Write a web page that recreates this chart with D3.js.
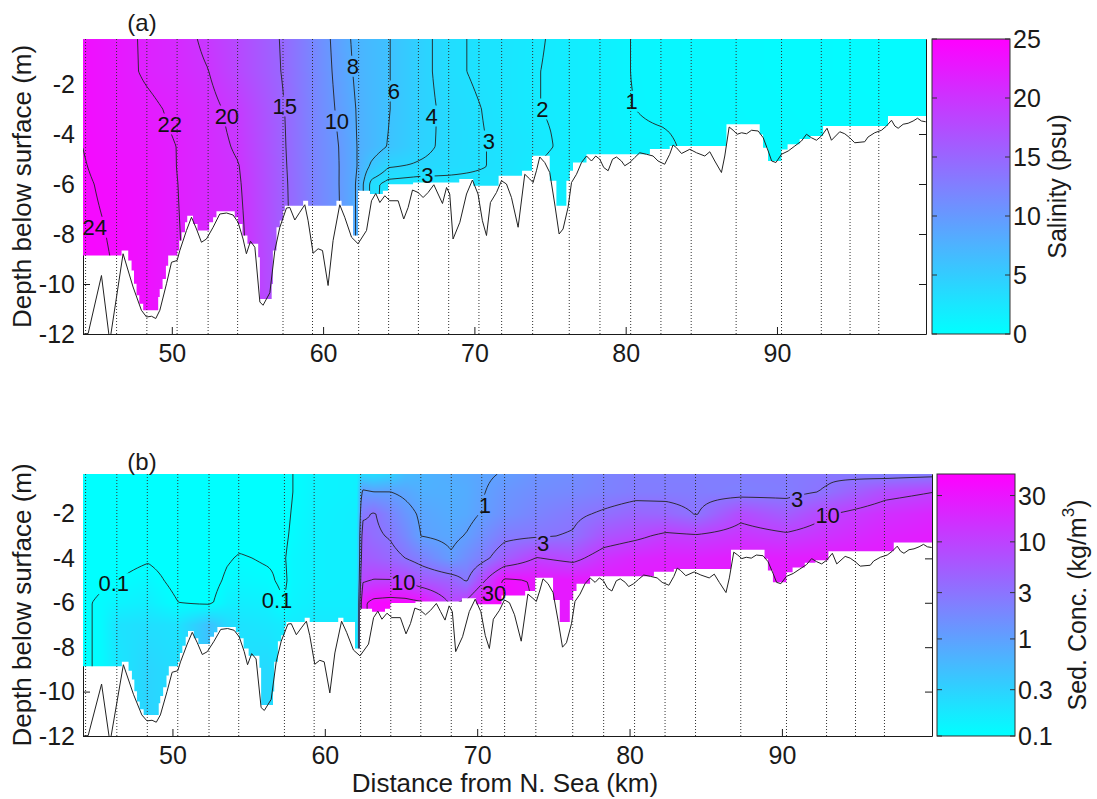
<!DOCTYPE html>
<html lang="en">
<head>
<meta charset="UTF-8">
<title>Salinity and sediment along the estuary</title>
<script src="https://d3js.org/d3.v7.min.js"></script>
<style>
  body { margin: 0; background: #fff; }
  svg { font-family: "Liberation Sans", Arial, Helvetica, sans-serif; }
</style>
</head>
<body>
<svg></svg>
<script>
const width = 1097, height = 799;

// ---- shared data ----
const kmDomain = [44.13, 99.85];
const depthDomain = [-12, -0.2];
const xTicks = [50, 60, 70, 80, 90];
const yTicks = [-2, -4, -6, -8, -10, -12];

// survey stations (dotted verticals), km
const stations = [44.3, 46.35, 48.35, 50.35, 52.4, 54.35, 57.35, 59.3, 62.35, 64.33, 66.3, 68.3,
  70.3, 71.8, 73.85, 76.27, 78.3, 80.33, 82.33, 84.33, 87.3, 90.3, 92.93, 94.83, 96.73];

// echo-sounded bed (km, depth)
const bed = [[44.15,-12.0],[44.47,-11.98],[45.35,-9.66],[45.9,-12.3],[46.78,-8.79],[47.44,-10.12],
  [47.99,-11.05],[48.33,-11.32],[48.66,-11.29],[48.94,-11.38],[49.21,-11.05],[49.65,-9.99],[49.98,-9.13],
  [50.35,-9.06],[50.53,-8.66],[50.97,-7.86],[51.3,-7.33],[51.63,-7.8],[51.96,-8.33],[52.29,-8.2],
  [52.73,-7.73],[53.17,-7.2],[53.62,-7.16],[54.05,-7.24],[54.38,-7.53],[54.71,-8.2],[54.93,-8.79],
  [55.2,-8.29],[55.49,-8.53],[55.82,-10.72],[56.03,-10.85],[56.48,-10.35],[56.81,-8.66],[57.14,-7.73],
  [57.58,-6.96],[57.8,-6.94],[58.13,-7.44],[58.46,-7.13],[58.79,-6.83],[59.01,-7.47],[59.34,-8.77],
  [59.67,-8.59],[59.96,-8.66],[60.33,-10.06],[60.66,-8.26],[61.1,-6.83],[61.43,-7.33],[61.88,-8.13],
  [62.31,-8.39],[62.87,-7.86],[63.2,-6.67],[63.48,-6.38],[63.75,-6.74],[64.08,-6.47],[64.41,-6.67],
  [64.96,-6.67],[65.33,-7.4],[65.62,-6.94],[65.91,-6.24],[66.28,-6.34],[66.61,-6.54],[66.94,-6.34],
  [67.32,-6.03],[67.6,-6.4],[67.89,-6.78],[68.16,-6.14],[68.37,-6.4],[68.59,-8.2],[69.04,-7.53],
  [69.48,-6.4],[69.87,-5.84],[70.24,-6.4],[70.53,-7.47],[70.8,-8.06],[71.06,-6.74],[71.46,-6.34],
  [71.79,-5.87],[72.12,-6.0],[72.45,-6.54],[72.89,-7.73],[73.33,-5.61],[73.66,-5.8],[73.88,-5.94],
  [74.1,-5.47],[74.32,-4.92],[74.65,-5.14],[74.98,-5.54],[75.31,-6.8],[75.6,-8.0],[75.86,-7.8],
  [76.19,-6.94],[76.42,-5.94],[76.75,-5.61],[77.08,-5.14],[77.41,-4.88],[77.74,-5.08],[78.02,-4.88],
  [78.29,-5.01],[78.55,-5.34],[78.84,-5.47],[79.13,-5.01],[79.39,-4.92],[79.72,-5.08],[79.94,-5.27],
  [80.27,-5.14],[80.6,-4.94],[80.93,-4.75],[81.37,-4.81],[81.81,-4.88],[82.14,-5.08],[82.58,-5.21],
  [82.91,-4.81],[83.13,-4.44],[83.36,-4.55],[83.69,-4.78],[84.24,-4.61],[84.68,-4.75],[85.23,-4.88],
  [85.56,-4.71],[85.89,-5.08],[86.33,-5.54],[86.55,-4.88],[86.84,-3.72],[87.1,-3.85],[87.37,-4.01],
  [87.66,-3.95],[87.99,-3.99],[88.32,-3.85],[88.76,-3.88],[89.09,-4.15],[89.42,-4.68],[89.65,-5.08],
  [89.93,-5.14],[90.3,-4.81],[90.74,-4.68],[91.18,-4.48],[91.62,-4.28],[91.95,-4.01],[92.28,-4.15],
  [92.61,-4.25],[92.94,-4.08],[93.31,-3.77],[93.6,-4.25],[94.15,-3.91],[94.48,-3.99],[94.81,-4.15],
  [95.14,-4.35],[95.8,-4.31],[96.02,-4.12],[96.46,-3.95],[96.91,-3.85],[97.24,-3.68],[97.57,-3.45],
  [97.79,-3.68],[98.01,-3.77],[98.34,-3.61],[98.67,-3.57],[99.0,-3.48],[99.29,-3.37],[99.55,-3.48],
  [99.83,-3.51]];

// deepest wet cell of the model grid (step starts at km)
const gridBottom = [[44.13,-8.86],[46.68,-8.66],[47.12,-9.06],[47.34,-9.46],[47.5,-9.99],[47.67,-10.45],
  [47.85,-10.79],[48.11,-11.05],[49.1,-10.52],[49.2,-10.2],[49.39,-9.8],[49.61,-9.27],[49.76,-8.86],
  [50.36,-8.66],[50.49,-8.26],[50.65,-7.93],[50.87,-7.53],[51.02,-7.27],[51.4,-7.6],[51.7,-7.86],
  [52.47,-7.53],[52.73,-7.33],[52.95,-7.09],[54.16,-7.33],[54.38,-7.6],[54.67,-8.06],[55.0,-8.39],
  [55.71,-8.93],[55.82,-10.6],[56.6,-10.0],[56.68,-8.66],[56.92,-7.73],[57.14,-7.46],[57.36,-7.07],
  [57.47,-6.87],[58.68,-6.67],[59.01,-6.87],[60.88,-6.67],[61.22,-6.87],[61.98,-8.06],[62.31,-6.27],
  [63.1,-6.4],[63.95,-6.27],[64.3,-6.01],[65.95,-5.94],[69.0,-5.8],[69.92,-6.07],[71.6,-5.67],
  [73.15,-5.47],[73.81,-4.87],[74.98,-5.87],[75.42,-6.87],[76.08,-5.87],[76.3,-5.47],[76.52,-5.14],
  [77.41,-4.81],[81.6,-4.6],[82.91,-4.48],[86.66,-3.61],[88.86,-4.02],[89.08,-4.55],[89.41,-5.08],
  [90.29,-4.62],[90.7,-4.41],[91.5,-4.2],[92.2,-4.08],[93.05,-3.68],[97.34,-3.28]];

// ---- (a) salinity, psu ----
const salKm = [44.1, 46.4, 48.4, 50.4, 52.4, 54.4, 57.3, 59.3, 61.0, 62.3, 63.2, 64.3, 66.3, 68.3,
  70.3, 71.8, 73.9, 76.3, 78.3, 80.4, 82.4, 84.4, 87.3, 90.3, 93.0, 96.8, 99.9];
const salDepth = [-0.2, -1.5, -3, -3.9, -4.5, -5.3, -6, -7.5, -9, -12];
const salRows = [
  [23.6, 22.6, 21.7, 20.9, 19.5, 17.8, 14.8, 11.8, 9.2, 7.3, 6.7, 6.1, 4.6, 3.3, 2.8, 2.6, 2.1, 1.8, 1.5, 0.98, 0.8, 0.7, 0.6, 0.5, 0.45, 0.4, 0.35],
  [23.7, 22.7, 21.7, 21.0, 20.05, 18.0, 14.9, 11.9, 9.4, 7.5, 6.8, 6.1, 4.6, 3.3, 2.8, 2.55, 2.05, 1.8, 1.5, 0.98, 0.8, 0.7, 0.6, 0.5, 0.45, 0.4, 0.35],
  [23.8, 22.9, 22.4, 21.6, 20.7, 19.2, 15.25, 12.0, 9.7, 7.8, 6.9, 6.1, 4.6, 3.6, 3.05, 2.6, 2.05, 1.8, 1.5, 1.02, 0.85, 0.75, 0.65, 0.55, 0.5, 0.45, 0.4],
  [23.9, 23.05, 22.6, 21.8, 20.8, 19.5, 15.35, 12.05, 9.9, 7.85, 6.95, 6.0, 4.55, 3.6, 3.1, 2.7, 2.2, 1.78, 1.5, 1.1, 1.04, 0.85, 0.68, 0.58, 0.52, 0.48, 0.43],
  [24.0, 23.2, 22.8, 21.95, 20.9, 19.7, 15.4, 12.1, 10.05, 7.9, 7.0, 5.9, 4.5, 3.6, 3.1, 2.8, 2.3, 1.75, 1.5, 1.25, 1.15, 0.85, 0.7, 0.6, 0.55, 0.5, 0.45],
  [24.1, 23.4, 23.0, 21.95, 21.0, 20.1, 15.5, 12.2, 10.1, 7.9, 5.6, 4.1, 3.8, 3.5, 3.1, 2.8, 2.0, 1.6, 1.4, 1.2, 1.05, 0.85, 0.7, 0.6, 0.55, 0.5, 0.45],
  [24.2, 23.6, 23.1, 22.0, 21.1, 20.3, 15.6, 12.3, 10.1, 7.7, 3.4, 2.6, 2.4, 2.5, 2.6, 2.7, 1.9, 1.6, 1.4, 1.2, 1.05, 0.85, 0.7, 0.6, 0.55, 0.5, 0.45],
  [24.3, 23.8, 23.2, 22.05, 21.2, 20.6, 15.7, 12.4, 10.2, 7.7, 3.3, 2.5, 2.3, 2.4, 2.5, 2.5, 1.8, 1.5, 1.3, 1.1, 0.9, 0.8, 0.7, 0.6, 0.5, 0.45, 0.4],
  [24.4, 23.9, 23.3, 22.1, 21.3, 20.8, 16.0, 12.5, 10.2, 7.7, 3.3, 2.5, 2.3, 2.4, 2.5, 2.5, 1.8, 1.5, 1.3, 1.1, 0.9, 0.8, 0.7, 0.6, 0.5, 0.45, 0.4],
  [24.5, 23.95, 23.4, 22.2, 21.4, 20.9, 16.2, 12.6, 10.2, 7.7, 3.3, 2.5, 2.3, 2.4, 2.5, 2.5, 1.8, 1.5, 1.3, 1.1, 0.9, 0.8, 0.7, 0.6, 0.5, 0.45, 0.4]
];
const salLevels = [1, 2, 3, 4, 6, 8, 10, 15, 20, 22, 24];
const salLabels = [["24", 44.9, -7.73], ["22", 49.87, -3.6], ["20", 53.64, -3.28], ["15", 57.47, -2.88],
  ["10", 60.91, -3.48], ["8", 61.97, -1.29], ["6", 64.68, -2.28], ["4", 67.18, -3.28], ["3", 70.96, -4.28],
  ["3", 66.9, -5.67], ["2", 74.5, -3.0], ["1", 80.4, -2.69]];
const salTicks = [0, 5, 10, 15, 20, 25];

// ---- (b) sediment concentration, kg/m3 ----
const sedKm = [44.1, 45.3, 46.4, 48.4, 50.4, 52.4, 53.6, 54.4, 56.2, 57.3, 57.9, 59.3, 62.1,
  62.45, 63.2, 64.3, 65.3, 66.3, 68.3, 69.3, 70.3, 71.8, 73.9, 76.3, 78.3, 80.4, 82.4, 84.4, 87.3, 90.3, 93.0, 96.8, 99.9];
const sedDepth = [-0.2, -1, -2, -3, -4, -5, -6, -7, -9, -12];
const sedRows = [
  [0.07, 0.07, 0.07, 0.07, 0.07, 0.08, 0.07, 0.07, 0.07, 0.08, 0.1, 0.13, 0.14,
   0.25, 0.22, 0.3, 0.5, 0.6, 0.75, 0.8, 0.9, 1.05, 1.4, 1.6, 2.0, 2.3, 2.3, 2.3, 2.4, 2.5, 2.7, 2.2, 2.4],
  [0.07, 0.07, 0.07, 0.07, 0.07, 0.075, 0.07, 0.07, 0.07, 0.08, 0.1, 0.13, 0.14,
   1.2, 1.0, 1.0, 0.85, 0.7, 0.7, 0.75, 0.95, 1.3, 1.6, 1.8, 2.1, 2.4, 2.4, 2.4, 2.2, 2.4, 3.2, 7.5, 9.8],
  [0.07, 0.07, 0.07, 0.075, 0.07, 0.07, 0.075, 0.08, 0.075, 0.085, 0.105, 0.135, 0.15,
   2.5, 3.2, 2.0, 1.3, 0.9, 0.75, 0.8, 1.05, 1.5, 2.0, 2.6, 3.3, 4.2, 4.0, 2.9, 8.0, 5.0, 9.5, 16, 20],
  [0.07, 0.075, 0.075, 0.08, 0.075, 0.075, 0.08, 0.085, 0.08, 0.09, 0.11, 0.14, 0.15,
   4.5, 3.5, 2.8, 1.8, 1.0, 0.85, 1.05, 1.5, 2.5, 2.8, 3.2, 6.5, 8.5, 12, 11, 14, 11.5, 15, 22, 25],
  [0.075, 0.08, 0.085, 0.095, 0.08, 0.075, 0.095, 0.105, 0.095, 0.095, 0.12, 0.14, 0.15,
   5.5, 5.0, 4.0, 3.0, 2.2, 1.1, 1.6, 2.3, 5.0, 10.5, 8.0, 15, 20, 22, 22, 25, 24, 26, 27, 27],
  [0.08, 0.09, 0.1, 0.12, 0.085, 0.08, 0.11, 0.12, 0.11, 0.09, 0.12, 0.14, 0.15,
   9, 10.5, 10.5, 9.5, 6, 4.5, 2.8, 8, 35, 28, 27, 27, 27, 27, 27, 27, 27, 27, 27, 27],
  [0.09, 0.11, 0.13, 0.15, 0.1, 0.09, 0.14, 0.15, 0.14, 0.1, 0.13, 0.15, 0.15,
   25, 38, 42, 40, 34, 9, 12, 32, 42, 28, 27, 27, 27, 27, 27, 27, 27, 27, 27, 27],
  [0.09, 0.11, 0.2, 0.22, 0.2, 0.45, 0.25, 0.2, 0.18, 0.16, 0.16, 0.17, 0.17,
   25, 38, 42, 40, 34, 9, 12, 32, 42, 28, 27, 27, 27, 27, 27, 27, 27, 27, 27, 27],
  [0.09, 0.11, 0.18, 0.28, 0.22, 0.4, 0.25, 0.22, 0.25, 0.18, 0.17, 0.17, 0.17,
   25, 38, 42, 40, 34, 9, 12, 32, 42, 28, 27, 27, 27, 27, 27, 27, 27, 27, 27, 27],
  [0.09, 0.11, 0.18, 0.3, 0.22, 0.4, 0.25, 0.22, 0.28, 0.2, 0.17, 0.17, 0.17,
   25, 38, 42, 40, 34, 9, 12, 32, 42, 28, 27, 27, 27, 27, 27, 27, 27, 27, 27, 27]
];
const sedLevels = [0.1, 1, 3, 10, 30];
const sedLabels = [["0.1", 46.15, -5.14], ["0.1", 56.86, -5.89], ["1", 70.5, -1.6], ["3", 74.33, -3.33],
  ["10", 65.15, -5.08], ["30", 71.1, -5.58], ["3", 91.0, -1.37], ["10", 93.0, -2.05]];
const sedTicks = [0.1, 0.3, 1, 3, 10, 30];
const sedMax = 50;

[salRows, sedRows].forEach((rows, k) => rows.forEach((r, i) => {
  const n = k ? sedKm.length : salKm.length;
  if (r.length !== n) throw new Error(`row ${i} of grid ${k} has ${r.length} values, expected ${n}`);
}));

// ---- drawing ----
const svg = d3.select('svg').attr('width', width).attr('height', height);
const defs = svg.append('defs');
const ink = '#1a1a1a';
const cool = t => { t = Math.max(0, Math.min(1, t)); return [255 * t, 255 * (1 - t), 255]; };

function gridField(xs, zs, rows, f) {
  const v = rows.map(r => r.map(f));
  const zp = zs.map(d => -d);
  return (km, dep) => {
    let i = Math.max(0, Math.min(xs.length - 2, d3.bisectRight(xs, km) - 1));
    let tx = Math.max(0, Math.min(1, (km - xs[i]) / (xs[i + 1] - xs[i])));
    let j = Math.max(0, Math.min(zp.length - 2, d3.bisectRight(zp, -dep) - 1));
    let tz = Math.max(0, Math.min(1, (-dep - zp[j]) / (zp[j + 1] - zp[j])));
    const a = v[j][i] * (1 - tx) + v[j][i + 1] * tx;
    const b = v[j + 1][i] * (1 - tx) + v[j + 1][i + 1] * tx;
    return a * (1 - tz) + b * tz;
  };
}

function drawPanel(p) {
  const x = d3.scaleLinear().domain(kmDomain).range([p.left, p.right]);
  const y = d3.scaleLinear().domain(depthDomain).range([p.bottom, p.top]);
  const g = svg.append('g');
  const styleAxis = s => s.attr('font-family', null).attr('font-size', 25).attr('color', ink);

  // axes first: the field hides the parts it covers, as in the original
  g.append('g').attr('transform', `translate(0,${p.bottom})`)
    .call(d3.axisBottom(x).tickValues(xTicks).tickSizeInner(-7).tickSizeOuter(0).tickPadding(10).tickFormat(d => d))
    .call(styleAxis);
  g.append('g').attr('transform', `translate(0,${p.top})`)
    .call(d3.axisTop(x).tickValues(xTicks).tickSizeInner(-7).tickSizeOuter(0).tickFormat(''))
    .call(styleAxis);
  g.append('g').attr('transform', `translate(${p.left},0)`)
    .call(d3.axisLeft(y).tickValues(yTicks).tickSizeInner(-7).tickSizeOuter(0).tickPadding(8).tickFormat(d => d))
    .call(styleAxis);
  g.append('g').attr('transform', `translate(${p.right},0)`)
    .call(d3.axisRight(y).tickValues(yTicks).tickSizeInner(-7).tickSizeOuter(0).tickFormat(''))
    .call(styleAxis);

  // wet area clip
  const steps = gridBottom.concat([[kmDomain[1], gridBottom[gridBottom.length - 1][1]]]);
  const wet = d3.area().curve(d3.curveStepAfter)
    .x(d => x(d[0])).y0(p.top).y1(d => y(d[1]));
  defs.append('clipPath').attr('id', p.id + '-wet').append('path').attr('d', wet(steps));
  defs.append('clipPath').attr('id', p.id + '-box').append('rect')
    .attr('x', p.left).attr('y', p.top).attr('width', p.right - p.left).attr('height', p.bottom - p.top);

  // colour field
  const w = p.right - p.left, h = p.bottom - p.top;
  const canvas = document.createElement('canvas');
  canvas.width = w; canvas.height = h;
  const ctx = canvas.getContext('2d');
  const img = ctx.createImageData(w, h);
  for (let j = 0; j < h; j++) {
    const dep = y.invert(p.top + j + 0.5);
    for (let i = 0; i < w; i++) {
      const c = cool(p.toT(p.field(x.invert(p.left + i + 0.5), dep)));
      const k = 4 * (j * w + i);
      img.data[k] = c[0]; img.data[k + 1] = c[1]; img.data[k + 2] = c[2]; img.data[k + 3] = 255;
    }
  }
  ctx.putImageData(img, 0, 0);
  g.append('image').attr('x', p.left).attr('y', p.top).attr('width', w).attr('height', h)
    .attr('preserveAspectRatio', 'none').attr('href', canvas.toDataURL())
    .attr('clip-path', `url(#${p.id}-wet)`);

  // contour lines from the same grid
  const step = 2, m = 2;
  const nx = Math.ceil(w / step) + 2 * m + 1, ny = Math.ceil(h / step) + 2 * m + 1;
  const vals = new Float64Array(nx * ny);
  for (let j = 0; j < ny; j++) {
    const dep = y.invert(p.top + (j - m) * step);
    for (let i = 0; i < nx; i++) vals[j * nx + i] = p.field(x.invert(p.left + (i - m) * step), dep);
  }
  const iso = d3.contours().size([nx, ny]).thresholds(p.levels)(vals);
  const toScreen = d3.geoTransform({
    point(cx, cy) { this.stream.point(p.left + (cx - 0.5 - m) * step, p.top + (cy - 0.5 - m) * step); }
  });
  const path = d3.geoPath(toScreen);

  const labelG = g.append('g').attr('font-size', 22).attr('fill', '#111')
    .attr('text-anchor', 'middle').attr('dominant-baseline', 'central');
  const labels = labelG.selectAll('text').data(p.labels).join('text')
    .attr('x', d => x(d[1])).attr('y', d => y(d[2])).text(d => d[0]);

  const gap = defs.append('mask').attr('id', p.id + '-gap').attr('maskUnits', 'userSpaceOnUse')
    .attr('x', 0).attr('y', 0).attr('width', width).attr('height', height);
  gap.append('rect').attr('width', width).attr('height', height).attr('fill', '#fff');
  labels.each(function () {
    const b = this.getBBox();
    gap.append('rect').attr('x', b.x - 1).attr('y', b.y + 2).attr('width', b.width + 2)
      .attr('height', b.height - 4).attr('fill', '#000');
  });

  g.insert('g', () => labelG.node())
    .attr('clip-path', `url(#${p.id}-wet)`)
    .append('g').attr('mask', `url(#${p.id}-gap)`)
    .selectAll('path').data(iso).join('path')
    .attr('d', path).attr('fill', 'none').attr('stroke', '#222').attr('stroke-width', 0.9);

  // station verticals
  g.append('g').selectAll('line').data(stations).join('line')
    .attr('x1', d => x(d)).attr('x2', d => x(d)).attr('y1', p.top).attr('y2', p.bottom)
    .attr('stroke', '#333').attr('stroke-width', 1).attr('stroke-dasharray', '1,2');

  // bed profile
  g.append('path').datum(bed).attr('clip-path', `url(#${p.id}-box)`)
    .attr('d', d3.line().x(d => x(d[0])).y(d => y(d[1])))
    .attr('fill', 'none').attr('stroke', '#222').attr('stroke-width', 1);

  // panel tag and y label
  g.append('text').attr('x', p.tag[0]).attr('y', p.tag[1]).attr('font-size', 24)
    .attr('text-anchor', 'middle').attr('dominant-baseline', 'central').attr('fill', ink).text(p.tagText);
  g.append('text').attr('transform', `translate(22,${(p.top + p.bottom) / 2}) rotate(-90)`)
    .attr('font-size', 26).attr('text-anchor', 'middle').attr('dominant-baseline', 'central')
    .attr('fill', ink).text('Depth below surface (m)');

  // colour bar
  const cb = p.cbScale.range([p.bottom, p.top]);
  const grad = defs.append('linearGradient').attr('id', p.id + '-grad')
    .attr('x1', 0).attr('y1', 1).attr('x2', 0).attr('y2', 0);
  d3.range(0, 1.0001, 0.1).forEach(t => {
    const c = cool(t);
    grad.append('stop').attr('offset', t).attr('stop-color', d3.rgb(c[0], c[1], c[2]));
  });
  g.append('rect').attr('x', p.cbLeft).attr('y', p.top).attr('width', p.cbRight - p.cbLeft)
    .attr('height', p.bottom - p.top).attr('fill', `url(#${p.id}-grad)`)
    .attr('stroke', '#333').attr('stroke-width', 1);
  const cbTicks = g.append('g').selectAll('g').data(p.cbTicks).join('g');
  cbTicks.append('line').attr('x1', p.cbLeft).attr('x2', p.cbLeft + 5)
    .attr('y1', d => cb(d)).attr('y2', d => cb(d)).attr('stroke', '#333');
  cbTicks.append('line').attr('x1', p.cbRight - 5).attr('x2', p.cbRight)
    .attr('y1', d => cb(d)).attr('y2', d => cb(d)).attr('stroke', '#333');
  cbTicks.append('text').attr('x', p.cbRight + 3).attr('y', d => cb(d))
    .attr('font-size', 25).attr('dominant-baseline', 'central').attr('fill', ink).text(d => d);
  const cbLabel = g.append('text')
    .attr('transform', `translate(${p.cbLabelX},${(p.top + p.bottom) / 2}) rotate(-90)`)
    .attr('font-size', 25).attr('text-anchor', 'middle').attr('dominant-baseline', 'central').attr('fill', ink);
  p.cbTitle(cbLabel);
  return { x, y };
}

const salField = gridField(salKm, salDepth, salRows, v => v);
drawPanel({
  id: 'sal', left: 83, right: 926, top: 39, bottom: 334, cbLeft: 932, cbRight: 1010, cbLabelX: 1057,
  field: salField, toT: s => s / 25, levels: salLevels, labels: salLabels,
  cbScale: d3.scaleLinear().domain([0, 25]), cbTicks: salTicks,
  tag: [142, 22], tagText: '(a)',
  cbTitle: t => t.text('Salinity (psu)')
});

const sedField = gridField(sedKm, sedDepth, sedRows, Math.log10);
const logTop = Math.log10(sedMax);
drawPanel({
  id: 'sed', left: 83, right: 932, top: 474, bottom: 736, cbLeft: 937, cbRight: 1015, cbLabelX: 1077,
  field: sedField, toT: L => (L + 1) / (logTop + 1), levels: sedLevels.map(Math.log10), labels: sedLabels,
  cbScale: d3.scaleLog().domain([0.1, sedMax]), cbTicks: sedTicks,
  tag: [142, 461], tagText: '(b)',
  cbTitle: t => {
    t.append('tspan').text('Sed. Conc.  (kg/m');
    t.append('tspan').attr('font-size', 17).attr('dy', -9).text('3');
    t.append('tspan').attr('dy', 9).text(')');
  }
});

svg.append('text').attr('x', 505).attr('y', 792).attr('font-size', 26).attr('text-anchor', 'middle')
  .attr('fill', ink).text('Distance from N. Sea (km)');
</script>
</body>
</html>
